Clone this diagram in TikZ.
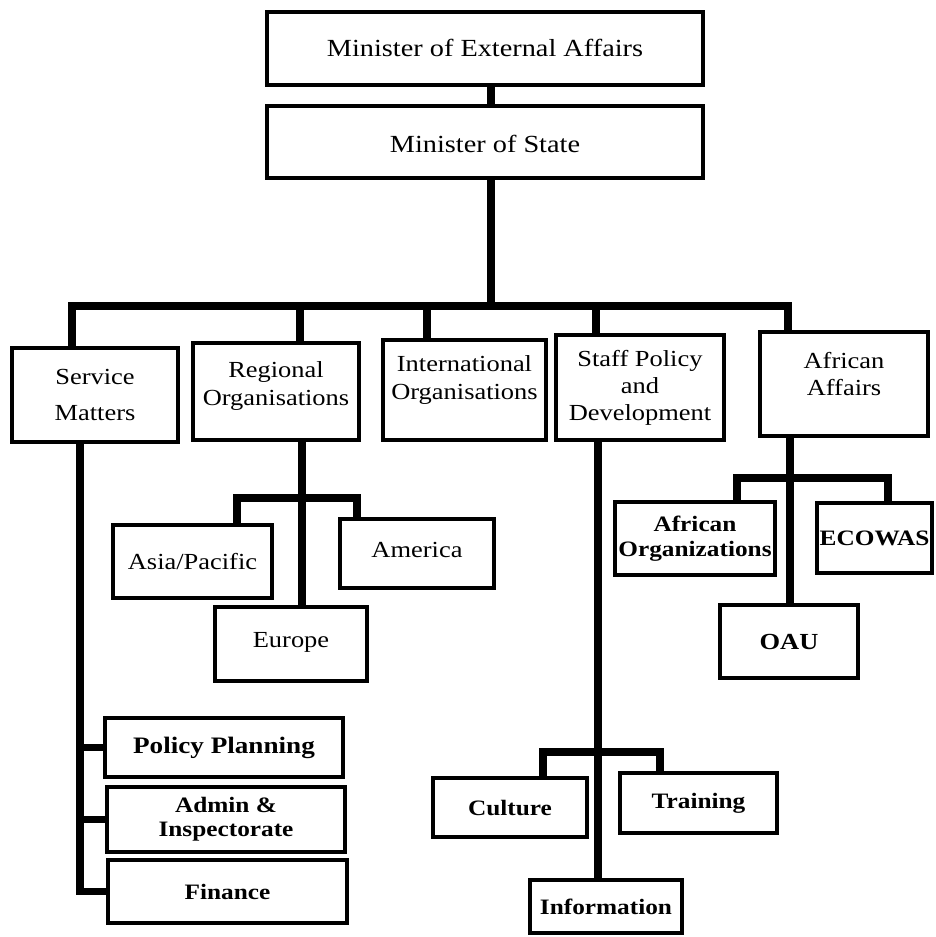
\documentclass[tikz,border=0pt]{standalone}
\usepackage{fontspec}
\setmainfont[FakeStretch=1.15]{Liberation Serif}
\begin{document}
\begin{tikzpicture}[x=0.5pt,y=-0.5pt,
  box/.style={draw,line width=1.8pt,inner sep=0pt,outer sep=0pt},
  conn/.style={draw,line width=3.7pt,line join=miter},
  tA/.style={inner sep=0pt,font=\fontsize{12.3}{14}\selectfont},
  tB/.style={inner sep=0pt,align=center,font=\fontsize{11.5}{14}\selectfont},
  tC/.style={inner sep=0pt,align=center,font=\fontsize{11.5}{14}\selectfont},
  tD/.style={inner sep=0pt,align=center,font=\bfseries\fontsize{11}{12.5}\selectfont}]
\newcommand\bx[7]{%
  \node[box,minimum width={(#4-#2)*0.5pt},minimum height={(#5-#3)*0.5pt}] (#1) at ({(#2+#4)/2},{(#3+#5)/2}) {};
  \node[#6] (#1-t) at (#1) {#7};}
\fill[white] (0,0) rectangle (936,937);
\useasboundingbox (0,0) rectangle (936,937);
% top
\bx{mea}{267}{12}{703}{85}{tA,yshift=0.5pt}{Minister of External Affairs}
\bx{ms}{267}{106}{703}{178}{tA,yshift=-1pt}{Minister of State}
% second level
\bx{sm}{12}{348}{178}{442}{tB,font=\fontsize{11.5}{18}\selectfont}{Service\\Matters}
\bx{reg}{193}{343}{359}{440}{tB,yshift=3pt}{Regional\\Organisations}
\bx{intl}{383}{340}{546}{440}{tB,yshift=5pt}{International\\Organisations}
\bx{staff}{556}{335}{724}{440}{tB,font=\fontsize{11.5}{13.5}\selectfont}{Staff Policy\\and\\Development}
\bx{afr}{760}{332}{928}{436}{tB,yshift=5pt,font=\fontsize{11.5}{13.5}\selectfont}{African\\Affairs}
% regional
\bx{asia}{113}{525}{272}{598}{tC}{Asia/Pacific}
\bx{amer}{340}{519}{494}{588}{tC,yshift=2pt}{America}
\bx{eur}{215}{607}{367}{681}{tC,yshift=1pt}{Europe}
% african
\bx{aforg}{615}{502}{775}{575}{tD}{African\\Organizations}
\bx{ecow}{817}{503}{932}{573}{tD}{ECOWAS}
\bx{oau}{720}{605}{858}{678}{tD,font=\bfseries\fontsize{11.5}{12.5}\selectfont}{OAU}
% staff
\bx{cult}{433}{778}{587}{837}{tD}{Culture}
\bx{train}{620}{773}{777}{833}{tD}{Training}
\bx{info}{530}{880}{682}{933}{tD}{Information}
% service
\bx{pp}{105}{718}{343}{777}{tD,font=\bfseries\fontsize{11.8}{12.5}\selectfont}{Policy Planning}
\bx{adm}{107}{787}{345}{852}{tD,font=\bfseries\fontsize{11}{12}\selectfont}{Admin \&\\Inspectorate}
\bx{fin}{108}{860}{347}{923}{tD}{Finance}
% junction coordinates
\coordinate (jt) at (491,306);
\coordinate (d1) at (72,306);
\coordinate (d2) at (300,306);
\coordinate (d3) at (427,306);
\coordinate (d4) at (596,306);
\coordinate (d5) at (788,306);
\coordinate (rv) at (302,440);
\coordinate (rb1) at (237,498);
\coordinate (rb2) at (357,498);
\coordinate (av) at (790,436);
\coordinate (ab1) at (737,478);
\coordinate (ab2) at (888,478);
\coordinate (sv) at (598,440);
\coordinate (sb1) at (543,752);
\coordinate (sb2) at (660,752);
\coordinate (mv) at (80,442);
% connectors
\draw[conn] (mea.south -| jt) -- (ms.north -| jt);
\draw[conn] (ms.south -| jt) -- (jt);
\draw[conn] (d1 |- sm.north) -- (d1) -- (d5) -- (d5 |- afr.north);
\draw[conn] (d2) -- (d2 |- reg.north);
\draw[conn] (d3) -- (d3 |- intl.north);
\draw[conn] (d4) -- (d4 |- staff.north);
% regional
\draw[conn] (rv) -- (rv |- eur.north);
\draw[conn] (rb1 |- asia.north) -- (rb1) -- (rb2) -- (rb2 |- amer.north);
% african
\draw[conn] (av) -- (av |- oau.north);
\draw[conn] (ab1 |- aforg.north) -- (ab1) -- (ab2) -- (ab2 |- ecow.north);
% staff
\draw[conn] (sv) -- (sv |- info.north);
\draw[conn] (sb1 |- cult.north) -- (sb1) -- (sb2) -- (sb2 |- train.north);
% service
\draw[conn] (mv) -- (mv |- fin.west) -- (fin.west);
\draw[conn] (mv |- pp.west) -- (pp.west);
\draw[conn] (mv |- adm.west) -- (adm.west);
\end{tikzpicture}
\end{document}
